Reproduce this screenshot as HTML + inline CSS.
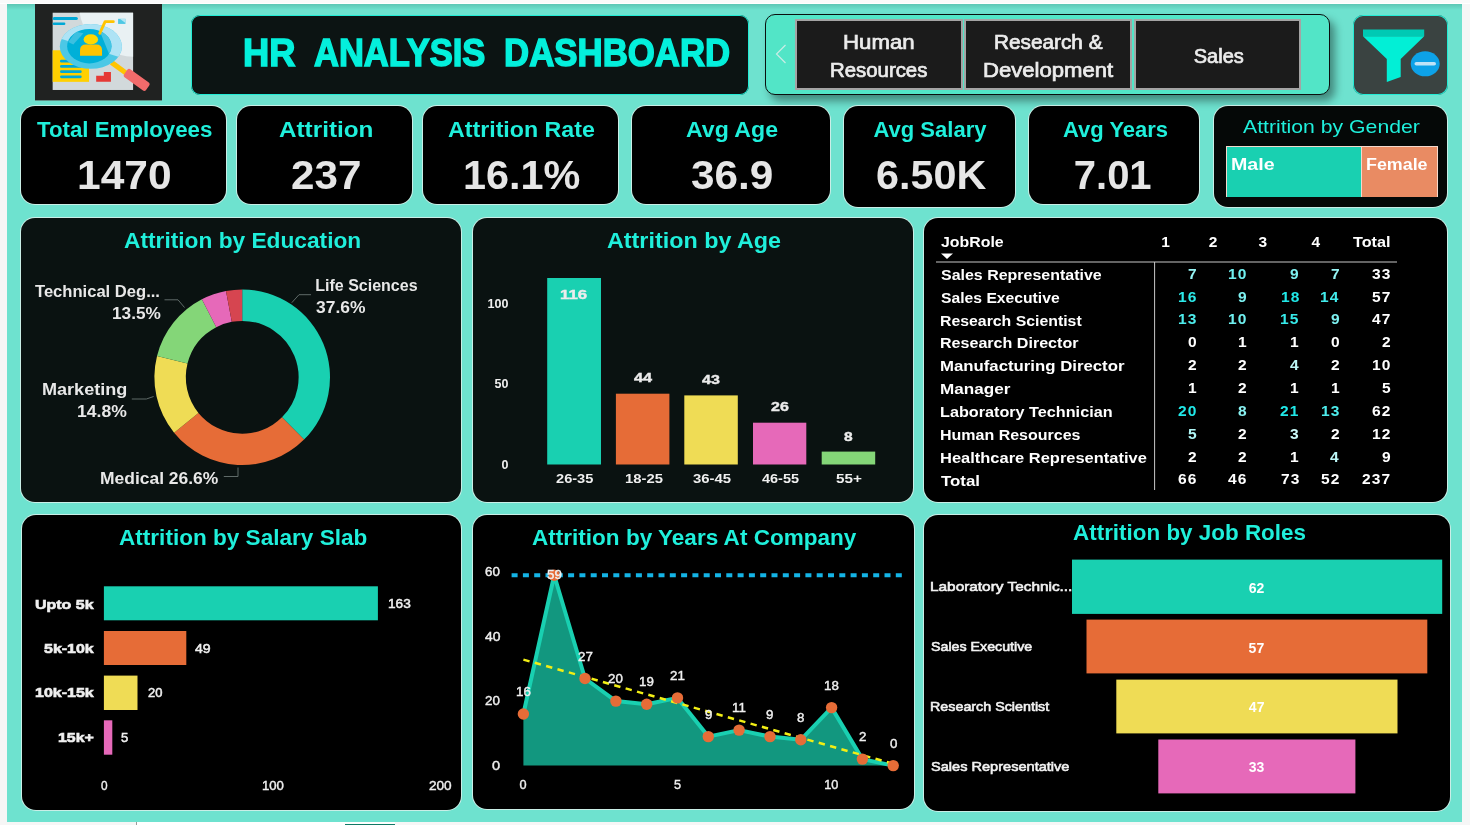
<!DOCTYPE html>
<html lang="en">
<head>
<meta charset="utf-8">
<title>HR Analysis Dashboard</title>
<style>
*{box-sizing:border-box;margin:0;padding:0}
html,body{width:1470px;height:825px;overflow:hidden}
body{position:relative;background:#f6f6f6;font-family:"Liberation Sans",sans-serif;color:#fff}
#canvas{position:absolute;left:7px;top:4px;width:1455px;height:818px;background:linear-gradient(180deg,rgba(0,50,40,.16),rgba(0,50,40,0) 6px) #6ee2cf}
.abs{position:absolute}
.panel{position:absolute;background:#000;border-radius:14px;box-shadow:0 0 0 1px rgba(238,242,240,.72)}
.dk{background:#0a1211}
.t{position:absolute;white-space:pre;line-height:1;font-weight:700;transform-origin:0 0;color:#fff}
.btn{position:absolute;background:#1b1b1b;border:2px solid #a4a4a4}
svg{position:absolute;left:0;top:0;overflow:visible}
</style>
</head>
<body>
<div class="abs" style="left:0;top:0;width:1470px;height:4px;background:linear-gradient(180deg,#fafafa 0,#fafafa 2.6px,#fff 3px,#fff 4px)"></div>
<div id="canvas"></div>
<div class="abs" style="left:136px;top:822px;width:259px;height:3px;background:#fff;border-left:1px solid #9a9a9a"></div>
<div class="abs" style="left:345px;top:824px;width:50px;height:1px;background:#117865"></div>

<!-- header -->
<div class="abs" id="logo" style="left:35.0px;top:4.0px;width:127.0px;height:95.7px;background:#202221;box-shadow:0 1px 0 #5f8f86">
<svg width="140" height="105" viewBox="0 0 1100 825" style="left:-5px;top:-4px">
<rect x="178" y="100" width="632" height="607" fill="#d2d9db"/>
<path d="M390 100H810V445Q700 440 640 400Q420 300 390 100Z" fill="#e9f1f3"/>
<rect x="178" y="134" width="198" height="24" rx="12" fill="#00a8d6"/><rect x="178" y="177" width="100" height="20" rx="10" fill="#00a8d6"/>
<rect x="692" y="148" width="58" height="40" fill="#4ec8e4"/><path d="M705 148H750V180Z" fill="#b5e6f3"/>
<rect x="178" y="395" width="286" height="248" fill="#ffd000"/>
<g fill="#00a8d6"><rect x="236" y="470" width="170" height="21" rx="10"/><rect x="236" y="511" width="170" height="21" rx="10"/><rect x="236" y="552" width="170" height="21" rx="10"/><rect x="236" y="593" width="170" height="21" rx="10"/></g>
<path d="M520 643V596H580V565H636V643Z" fill="#e53935"/>
<path d="M640 490L770 585" stroke="#ffc400" stroke-width="40" fill="none"/>
<rect x="0" y="-39" width="212" height="78" rx="20" transform="translate(752 566) rotate(35.6)" fill="#f26b6b"/>
<clipPath id="lo"><ellipse cx="478" cy="365" rx="244" ry="176"/></clipPath>
<clipPath id="li"><ellipse cx="466" cy="363" rx="174" ry="135"/></clipPath>
<ellipse cx="478" cy="365" rx="244" ry="176" fill="#4cc8e6"/>
<path d="M230 300V100H800V480L700 448Z" fill="#aee3f5" clip-path="url(#lo)"/>
<ellipse cx="466" cy="363" rx="174" ry="135" fill="#00b0d8"/>
<path d="M530 200L600 200L700 430L640 470Z" fill="#45c5e4" clip-path="url(#li)"/>
<path d="M300 330L360 250L420 262L340 350Z" fill="#3cc0e0" clip-path="url(#li)"/>
<path d="M548 262L590 170H655" stroke="#ffc400" stroke-width="22" stroke-linecap="round" stroke-linejoin="round" fill="none"/>
<ellipse cx="478" cy="310" rx="57" ry="40" fill="#ffd800"/>
<path d="M393 438V395Q393 350 440 350H520Q566 350 566 395V438Z" fill="#ffc400"/>
</svg>
</div>
<div class="abs" id="titlebar" style="left:191.0px;top:15.0px;width:558.0px;height:80.0px;background:#0c1413;border-radius:9px;box-shadow:inset 0 0 0 1px #22ecd6">
<span class="t" style="left:52.15px;top:19.25px;font-size:38.2px;color:#04f0dc;-webkit-text-stroke:1.5px #04f0dc;transform:scaleX(0.9510);">HR</span>
<span class="t" style="left:122.92px;top:19.25px;font-size:38.2px;color:#04f0dc;-webkit-text-stroke:1.5px #04f0dc;transform:scaleX(0.9041);">ANALYSIS</span>
<span class="t" style="left:312.88px;top:19.25px;font-size:38.2px;color:#04f0dc;-webkit-text-stroke:1.5px #04f0dc;transform:scaleX(0.9115);">DASHBOARD</span>
</div>
<div class="abs" id="slicer" style="left:764.5px;top:14.0px;width:565.5px;height:81.0px;background:#52e5c7;border:1px solid #0a0f0e;border-radius:10px;box-shadow:5px 6px 8px rgba(0,0,0,.4)">
<div class="abs" style="left:-1px;top:-1px;width:0;height:0">
<div class="btn" style="left:30.7px;top:5.4px;width:167.5px;height:70.2px"></div><div class="btn" style="left:199.9px;top:5.4px;width:167.5px;height:70.2px"></div><div class="btn" style="left:369.2px;top:5.4px;width:167.6px;height:70.2px"></div><svg width="565.5" height="81.0" viewBox="764.5 14.0 565.5 81.0"><path d="M785 45L776 54L785 63" stroke="#c9ece5" stroke-width="1.2" fill="none"/></svg>
<span class="t" style="left:78.26px;top:18.25px;font-size:20px;color:#ececec;font-weight:400;-webkit-text-stroke:0.7px #ececec;transform:scaleX(1.1104);">Human</span>
<span class="t" style="left:65.72px;top:46.25px;font-size:20px;color:#ececec;font-weight:400;-webkit-text-stroke:0.7px #ececec;transform:scaleX(1.0188);">Resources</span>
<span class="t" style="left:229.64px;top:18.25px;font-size:20px;color:#ececec;font-weight:400;-webkit-text-stroke:0.7px #ececec;transform:scaleX(1.0381);">Research &amp;</span>
<span class="t" style="left:218.70px;top:46.25px;font-size:20px;color:#ececec;font-weight:400;-webkit-text-stroke:0.7px #ececec;transform:scaleX(1.1048);">Development</span>
<span class="t" style="left:429.23px;top:32.25px;font-size:20px;color:#ececec;font-weight:400;-webkit-text-stroke:0.7px #ececec;">Sales</span>
</div>
</div>
<div class="abs" id="filter" style="left:1353.0px;top:15.0px;width:95.0px;height:80.0px;background:#3a4341;border-radius:10px;box-shadow:inset 0 0 0 1px #22ecd6">
<svg width="95.0" height="80.0" viewBox="1353.0 15.0 95.0 80.0"><path d="M1363 29.5H1424.2V36.3H1363Z" fill="#00c9b4"/><path d="M1363 36.3H1424.2L1400.7 59V77L1386.8 82V59Z" fill="#02efd6"/>
<ellipse cx="1425.2" cy="63.8" rx="14.5" ry="12.5" fill="#0da2e8"/><rect x="1414.5" y="62" width="21.5" height="3.6" rx="1.8" fill="#bfe3f7"/></svg>
</div>

<!-- KPI cards -->
<div class="panel" id="k1" style="left:21.0px;top:106.0px;width:205.0px;height:98.0px;">
<span class="t" style="left:15.79px;top:13.25px;font-size:22px;color:#1fefdb;transform:scaleX(1.0127);">Total Employees</span>
<span class="t" style="left:56.09px;top:49.25px;font-size:40px;color:#e6e6e6;transform:scaleX(1.0622);">1470</span>
</div>
<div class="panel" id="k2" style="left:237.0px;top:106.0px;width:175.0px;height:98.0px;">
<span class="t" style="left:41.75px;top:13.25px;font-size:22px;color:#1fefdb;transform:scaleX(1.1038);">Attrition</span>
<span class="t" style="left:53.95px;top:49.25px;font-size:40px;color:#e6e6e6;transform:scaleX(1.0544);">237</span>
</div>
<div class="panel" id="k3" style="left:423.0px;top:106.0px;width:195.0px;height:98.0px;">
<span class="t" style="left:25.08px;top:13.25px;font-size:22px;color:#1fefdb;transform:scaleX(1.0539);">Attrition Rate</span>
<span class="t" style="left:40.08px;top:49.25px;font-size:40px;color:#e6e6e6;transform:scaleX(1.0340);">16.1%</span>
</div>
<div class="panel" id="k4" style="left:632.0px;top:106.0px;width:198.0px;height:98.0px;">
<span class="t" style="left:53.68px;top:13.25px;font-size:22px;color:#1fefdb;transform:scaleX(1.0502);">Avg Age</span>
<span class="t" style="left:59.12px;top:49.25px;font-size:40px;color:#e6e6e6;transform:scaleX(1.0572);">36.9</span>
</div>
<div class="panel" id="k5" style="left:844.0px;top:106.0px;width:171.0px;height:101.0px;">
<span class="t" style="left:29.52px;top:13.25px;font-size:22px;color:#1fefdb;">Avg Salary</span>
<span class="t" style="left:31.84px;top:49.25px;font-size:40px;color:#e6e6e6;transform:scaleX(1.0326);">6.50K</span>
</div>
<div class="panel" id="k6" style="left:1029.0px;top:106.0px;width:170.0px;height:98.0px;">
<span class="t" style="left:33.93px;top:13.25px;font-size:22px;color:#1fefdb;">Avg Years</span>
<span class="t" style="left:44.77px;top:49.25px;font-size:40px;color:#e6e6e6;">7.01</span>
</div>
<div class="panel" id="gender" style="left:1214.0px;top:106.0px;width:233.0px;height:101.0px;background:#050807">
<div class="abs" style="left:11.9px;top:40.3px;width:212.1px;height:51px;background:#f4d9cc"></div><div class="abs" style="left:12.6px;top:41.0px;width:134.0px;height:49.6px;background:#19d0b1"></div><div class="abs" style="left:148.0px;top:41.0px;width:75.3px;height:49.6px;background:#e98b63"></div>
<span class="t" style="left:29.37px;top:11.25px;font-size:19px;color:#1fefdb;font-weight:400;transform:scaleX(1.1164);">Attrition by Gender</span>
<span class="t" style="left:17.33px;top:51.25px;font-size:16px;transform:scaleX(1.2268);">Male</span>
<span class="t" style="left:152.04px;top:51.25px;font-size:16px;transform:scaleX(1.1158);">Female</span>
</div>

<!-- row 3 -->
<div class="panel dk" id="p1" style="left:21.0px;top:218.0px;width:440.0px;height:284.0px;">
<svg width="440.0" height="284.0" viewBox="21.0 218.0 440.0 284.0"><path d="M242.20 289.50A87.8 87.8 0 0 1 304.08 439.59L281.95 417.31A56.4 56.4 0 0 0 242.20 320.90Z" fill="#19d0b1"/><path d="M304.08 439.59A87.8 87.8 0 0 1 174.08 432.69L198.44 412.88A56.4 56.4 0 0 0 281.95 417.31Z" fill="#e66c37"/><path d="M174.08 432.69A87.8 87.8 0 0 1 157.03 355.98L187.49 363.61A56.4 56.4 0 0 0 198.44 412.88Z" fill="#efdc55"/><path d="M157.03 355.98A87.8 87.8 0 0 1 201.87 299.31L216.30 327.20A56.4 56.4 0 0 0 187.49 363.61Z" fill="#84d678"/><path d="M201.87 299.31A87.8 87.8 0 0 1 226.00 291.01L231.79 321.87A56.4 56.4 0 0 0 216.30 327.20Z" fill="#e669b9"/><path d="M226.00 291.01A87.8 87.8 0 0 1 242.20 289.50L242.20 320.90A56.4 56.4 0 0 0 231.79 321.87Z" fill="#d64550"/><path d="M291.8 302.7L299 294.7H311M184.5 307.5L178 299.8H164.5M153.6 396.5L146.4 399H131.8M238 467.5V476.5H223.8" fill="none" stroke="#5f6a68" stroke-width="1"/></svg>
<span class="t" style="left:103.14px;top:12.25px;font-size:21.6px;color:#1fefdb;transform:scaleX(1.0520);">Attrition by Education</span>
<span class="t" style="left:294.25px;top:60.25px;font-size:16px;color:#e8e8e8;">Life Sciences</span>
<span class="t" style="left:294.65px;top:82.25px;font-size:16px;color:#e8e8e8;transform:scaleX(1.0890);">37.6%</span>
<span class="t" style="left:13.70px;top:66.25px;font-size:16px;color:#e8e8e8;transform:scaleX(1.0359);">Technical Deg...</span>
<span class="t" style="left:90.62px;top:88.25px;font-size:16px;color:#e8e8e8;transform:scaleX(1.0761);">13.5%</span>
<span class="t" style="left:21.02px;top:164.25px;font-size:16px;color:#e8e8e8;transform:scaleX(1.1285);">Marketing</span>
<span class="t" style="left:55.90px;top:186.25px;font-size:16px;color:#e8e8e8;transform:scaleX(1.0965);">14.8%</span>
<span class="t" style="left:78.97px;top:253.25px;font-size:16px;color:#e8e8e8;transform:scaleX(1.0901);">Medical 26.6%</span>
</div>
<div class="panel dk" id="p2" style="left:473.0px;top:218.0px;width:440.0px;height:284.0px;">
<svg width="440.0" height="284.0" viewBox="473.0 218.0 440.0 284.0"><rect x="547.2" y="278.0" width="53.8" height="186.5" fill="#19d0b1"/><rect x="615.9" y="393.7" width="53.5" height="70.8" fill="#e66c37"/><rect x="684.3" y="395.4" width="53.5" height="69.1" fill="#efdc55"/><rect x="753" y="422.7" width="53.3" height="41.8" fill="#e669b9"/><rect x="821.7" y="451.6" width="53.5" height="12.9" fill="#84d678"/></svg>
<span class="t" style="left:134.10px;top:12.25px;font-size:21.6px;color:#1fefdb;transform:scaleX(1.0800);">Attrition by Age</span>
<span class="t" style="left:14.62px;top:80.25px;font-size:12.5px;color:#f0f0f0;">100</span>
<span class="t" style="left:21.57px;top:160.25px;font-size:12.5px;color:#f0f0f0;">50</span>
<span class="t" style="left:28.52px;top:241.25px;font-size:12.5px;color:#f0f0f0;">0</span>
<span class="t" style="left:82.91px;top:254.25px;font-size:13px;color:#f0f0f0;transform:scaleX(1.1239);">26-35</span>
<span class="t" style="left:151.97px;top:254.25px;font-size:13px;color:#f0f0f0;transform:scaleX(1.1393);">18-25</span>
<span class="t" style="left:219.90px;top:254.25px;font-size:13px;color:#f0f0f0;transform:scaleX(1.1462);">36-45</span>
<span class="t" style="left:289.00px;top:254.25px;font-size:13px;color:#f0f0f0;transform:scaleX(1.1145);">46-55</span>
<span class="t" style="left:362.95px;top:254.25px;font-size:13px;color:#f0f0f0;transform:scaleX(1.1749);">55+</span>
<span class="t" style="left:86.65px;top:71.25px;font-size:12.7px;color:#ececec;-webkit-text-stroke:0.4px #ececec;transform:scaleX(1.3253);">116</span>
<span class="t" style="left:160.91px;top:154.25px;font-size:12.7px;color:#ececec;-webkit-text-stroke:0.4px #ececec;transform:scaleX(1.2817);">44</span>
<span class="t" style="left:228.97px;top:156.25px;font-size:12.7px;color:#ececec;-webkit-text-stroke:0.4px #ececec;transform:scaleX(1.2607);">43</span>
<span class="t" style="left:298.30px;top:183.25px;font-size:12.7px;color:#ececec;-webkit-text-stroke:0.4px #ececec;transform:scaleX(1.2602);">26</span>
<span class="t" style="left:370.65px;top:213.25px;font-size:12.7px;color:#ececec;-webkit-text-stroke:0.4px #ececec;transform:scaleX(1.2234);">8</span>
</div>
<div class="panel" id="p3" style="left:924.0px;top:218.0px;width:523.0px;height:284.0px;">
<svg width="523.0" height="284.0" viewBox="924.0 218.0 523.0 284.0"><path d="M936 262H1397M1154.6 262V490" stroke="#c8c8c8" stroke-width="1" fill="none"/><path d="M941 253.4H953L947 259Z" fill="#fff"/></svg>
<span class="t" style="left:16.85px;top:16.25px;font-size:15.5px;transform:scaleX(1.0257);">JobRole</span>
<span class="t" style="left:237.25px;top:16.25px;font-size:15.5px;">1</span>
<span class="t" style="left:284.76px;top:16.25px;font-size:15.5px;">2</span>
<span class="t" style="left:334.45px;top:16.25px;font-size:15.5px;">3</span>
<span class="t" style="left:387.58px;top:16.25px;font-size:15.5px;">4</span>
<span class="t" style="left:429.40px;top:16.25px;font-size:15.5px;transform:scaleX(1.0435);">Total</span>
<span class="t" style="left:17.19px;top:49.25px;font-size:15.5px;transform:scaleX(1.0305);">Sales Representative</span>
<span class="t" style="left:263.94px;top:49.25px;font-size:14.4px;color:#96f4f4;letter-spacing:1px;transform:scaleX(1.0800);">7</span>
<span class="t" style="left:304.22px;top:49.25px;font-size:14.4px;color:#70f0f0;letter-spacing:1px;transform:scaleX(1.0800);">10</span>
<span class="t" style="left:366.24px;top:49.25px;font-size:14.4px;color:#7df1f1;letter-spacing:1px;transform:scaleX(1.0800);">9</span>
<span class="t" style="left:407.24px;top:49.25px;font-size:14.4px;color:#96f4f4;letter-spacing:1px;transform:scaleX(1.0800);">7</span>
<span class="t" style="left:448.22px;top:49.25px;font-size:14.4px;letter-spacing:1px;transform:scaleX(1.0800);">33</span>
<span class="t" style="left:16.76px;top:72.25px;font-size:15.5px;transform:scaleX(1.0126);">Sales Executive</span>
<span class="t" style="left:254.22px;top:72.25px;font-size:14.4px;color:#2be9e9;letter-spacing:1px;transform:scaleX(1.0800);">16</span>
<span class="t" style="left:313.94px;top:72.25px;font-size:14.4px;color:#7df1f1;letter-spacing:1px;transform:scaleX(1.0800);">9</span>
<span class="t" style="left:357.12px;top:72.25px;font-size:14.4px;color:#20e8e8;letter-spacing:1px;transform:scaleX(1.0800);">18</span>
<span class="t" style="left:395.95px;top:72.25px;font-size:14.4px;color:#41ebeb;letter-spacing:1px;transform:scaleX(1.0800);">14</span>
<span class="t" style="left:448.22px;top:72.25px;font-size:14.4px;letter-spacing:1px;transform:scaleX(1.0800);">57</span>
<span class="t" style="left:16.48px;top:95.25px;font-size:15.5px;transform:scaleX(1.0215);">Research Scientist</span>
<span class="t" style="left:254.22px;top:94.25px;font-size:14.4px;color:#4decec;letter-spacing:1px;transform:scaleX(1.0800);">13</span>
<span class="t" style="left:304.22px;top:94.25px;font-size:14.4px;color:#70f0f0;letter-spacing:1px;transform:scaleX(1.0800);">10</span>
<span class="t" style="left:356.06px;top:94.25px;font-size:14.4px;color:#36eaea;letter-spacing:1px;transform:scaleX(1.0800);">15</span>
<span class="t" style="left:407.24px;top:94.25px;font-size:14.4px;color:#7df1f1;letter-spacing:1px;transform:scaleX(1.0800);">9</span>
<span class="t" style="left:448.22px;top:94.25px;font-size:14.4px;letter-spacing:1px;transform:scaleX(1.0800);">47</span>
<span class="t" style="left:16.35px;top:117.25px;font-size:15.5px;transform:scaleX(1.0370);">Research Director</span>
<span class="t" style="left:263.94px;top:117.25px;font-size:14.4px;color:#ffffff;letter-spacing:1px;transform:scaleX(1.0800);">0</span>
<span class="t" style="left:313.94px;top:117.25px;font-size:14.4px;color:#ffffff;letter-spacing:1px;transform:scaleX(1.0800);">1</span>
<span class="t" style="left:366.24px;top:117.25px;font-size:14.4px;color:#ffffff;letter-spacing:1px;transform:scaleX(1.0800);">1</span>
<span class="t" style="left:407.24px;top:117.25px;font-size:14.4px;color:#ffffff;letter-spacing:1px;transform:scaleX(1.0800);">0</span>
<span class="t" style="left:457.94px;top:117.25px;font-size:14.4px;letter-spacing:1px;transform:scaleX(1.0800);">2</span>
<span class="t" style="left:16.36px;top:140.25px;font-size:15.5px;transform:scaleX(1.0816);">Manufacturing Director</span>
<span class="t" style="left:263.94px;top:140.25px;font-size:14.4px;color:#ffffff;letter-spacing:1px;transform:scaleX(1.0800);">2</span>
<span class="t" style="left:313.94px;top:140.25px;font-size:14.4px;color:#ffffff;letter-spacing:1px;transform:scaleX(1.0800);">2</span>
<span class="t" style="left:365.63px;top:140.25px;font-size:14.4px;color:#bdf8f8;letter-spacing:1px;transform:scaleX(1.0800);">4</span>
<span class="t" style="left:407.24px;top:140.25px;font-size:14.4px;color:#ffffff;letter-spacing:1px;transform:scaleX(1.0800);">2</span>
<span class="t" style="left:448.22px;top:140.25px;font-size:14.4px;letter-spacing:1px;transform:scaleX(1.0800);">10</span>
<span class="t" style="left:16.41px;top:163.25px;font-size:15.5px;transform:scaleX(1.1035);">Manager</span>
<span class="t" style="left:263.94px;top:163.25px;font-size:14.4px;color:#ffffff;letter-spacing:1px;transform:scaleX(1.0800);">1</span>
<span class="t" style="left:313.94px;top:163.25px;font-size:14.4px;color:#ffffff;letter-spacing:1px;transform:scaleX(1.0800);">2</span>
<span class="t" style="left:366.24px;top:163.25px;font-size:14.4px;color:#ffffff;letter-spacing:1px;transform:scaleX(1.0800);">1</span>
<span class="t" style="left:407.24px;top:163.25px;font-size:14.4px;color:#ffffff;letter-spacing:1px;transform:scaleX(1.0800);">1</span>
<span class="t" style="left:457.94px;top:163.25px;font-size:14.4px;letter-spacing:1px;transform:scaleX(1.0800);">5</span>
<span class="t" style="left:16.34px;top:186.25px;font-size:15.5px;transform:scaleX(1.0452);">Laboratory Technician</span>
<span class="t" style="left:254.22px;top:186.25px;font-size:14.4px;color:#20e8e8;letter-spacing:1px;transform:scaleX(1.0800);">20</span>
<span class="t" style="left:313.94px;top:186.25px;font-size:14.4px;color:#89f2f2;letter-spacing:1px;transform:scaleX(1.0800);">8</span>
<span class="t" style="left:355.97px;top:186.25px;font-size:14.4px;color:#20e8e8;letter-spacing:1px;transform:scaleX(1.0800);">21</span>
<span class="t" style="left:396.55px;top:186.25px;font-size:14.4px;color:#4decec;letter-spacing:1px;transform:scaleX(1.0800);">13</span>
<span class="t" style="left:448.22px;top:186.25px;font-size:14.4px;letter-spacing:1px;transform:scaleX(1.0800);">62</span>
<span class="t" style="left:16.37px;top:209.25px;font-size:15.5px;transform:scaleX(1.0319);">Human Resources</span>
<span class="t" style="left:263.94px;top:209.25px;font-size:14.4px;color:#b0f6f6;letter-spacing:1px;transform:scaleX(1.0800);">5</span>
<span class="t" style="left:313.94px;top:209.25px;font-size:14.4px;color:#ffffff;letter-spacing:1px;transform:scaleX(1.0800);">2</span>
<span class="t" style="left:366.27px;top:209.25px;font-size:14.4px;color:#cbf9f9;letter-spacing:1px;transform:scaleX(1.0800);">3</span>
<span class="t" style="left:407.24px;top:209.25px;font-size:14.4px;color:#ffffff;letter-spacing:1px;transform:scaleX(1.0800);">2</span>
<span class="t" style="left:448.22px;top:209.25px;font-size:14.4px;letter-spacing:1px;transform:scaleX(1.0800);">12</span>
<span class="t" style="left:16.29px;top:232.25px;font-size:15.5px;transform:scaleX(1.0624);">Healthcare Representative</span>
<span class="t" style="left:263.94px;top:232.25px;font-size:14.4px;color:#ffffff;letter-spacing:1px;transform:scaleX(1.0800);">2</span>
<span class="t" style="left:313.94px;top:232.25px;font-size:14.4px;color:#ffffff;letter-spacing:1px;transform:scaleX(1.0800);">2</span>
<span class="t" style="left:366.24px;top:232.25px;font-size:14.4px;color:#ffffff;letter-spacing:1px;transform:scaleX(1.0800);">1</span>
<span class="t" style="left:406.43px;top:232.25px;font-size:14.4px;color:#bdf8f8;letter-spacing:1px;transform:scaleX(1.0800);">4</span>
<span class="t" style="left:457.94px;top:232.25px;font-size:14.4px;letter-spacing:1px;transform:scaleX(1.0800);">9</span>
<span class="t" style="left:16.83px;top:255.25px;font-size:15.5px;transform:scaleX(1.0881);">Total</span>
<span class="t" style="left:254.22px;top:254.25px;font-size:14.4px;letter-spacing:1px;transform:scaleX(1.0800);">66</span>
<span class="t" style="left:304.22px;top:254.25px;font-size:14.4px;letter-spacing:1px;transform:scaleX(1.0800);">46</span>
<span class="t" style="left:357.12px;top:254.25px;font-size:14.4px;letter-spacing:1px;transform:scaleX(1.0800);">73</span>
<span class="t" style="left:396.52px;top:254.25px;font-size:14.4px;letter-spacing:1px;transform:scaleX(1.0800);">52</span>
<span class="t" style="left:438.49px;top:254.25px;font-size:14.4px;letter-spacing:1px;transform:scaleX(1.0800);">237</span>
</div>

<!-- row 4 -->
<div class="panel" id="p4" style="left:22.0px;top:515.0px;width:439.0px;height:295.0px;">
<svg width="439.0" height="295.0" viewBox="22.0 515.0 439.0 295.0"><rect x="103.9" y="586.3" width="274.0" height="34.0" fill="#19d0b1"/><rect x="103.9" y="631" width="82.4" height="34.0" fill="#e66c37"/><rect x="103.9" y="675.6" width="33.6" height="34.4" fill="#efdc55"/><rect x="103.9" y="720.3" width="8.4" height="34.4" fill="#e669b9"/></svg>
<span class="t" style="left:96.52px;top:12.25px;font-size:21.6px;color:#1fefdb;transform:scaleX(1.0452);">Attrition by Salary Slab</span>
<span class="t" style="left:13.21px;top:83.25px;font-size:13.5px;color:#f0f0f0;-webkit-text-stroke:0.6px #f0f0f0;transform:scaleX(1.1832);">Upto 5k</span>
<span class="t" style="left:22.47px;top:127.25px;font-size:13.5px;color:#f0f0f0;-webkit-text-stroke:0.6px #f0f0f0;transform:scaleX(1.1823);">5k-10k</span>
<span class="t" style="left:13.28px;top:171.25px;font-size:13.5px;color:#f0f0f0;-webkit-text-stroke:0.6px #f0f0f0;transform:scaleX(1.1846);">10k-15k</span>
<span class="t" style="left:36.48px;top:216.25px;font-size:13.5px;color:#f0f0f0;-webkit-text-stroke:0.6px #f0f0f0;transform:scaleX(1.1802);">15k+</span>
<span class="t" style="left:365.57px;top:83.25px;font-size:12.7px;color:#f0f0f0;font-weight:400;-webkit-text-stroke:0.5px #f0f0f0;transform:scaleX(1.0734);">163</span>
<span class="t" style="left:172.58px;top:128.25px;font-size:12.7px;color:#f0f0f0;font-weight:400;-webkit-text-stroke:0.5px #f0f0f0;transform:scaleX(1.1093);">49</span>
<span class="t" style="left:125.65px;top:172.25px;font-size:12.7px;color:#f0f0f0;font-weight:400;-webkit-text-stroke:0.5px #f0f0f0;transform:scaleX(1.0227);">20</span>
<span class="t" style="left:99.43px;top:217.25px;font-size:12.7px;color:#f0f0f0;font-weight:400;-webkit-text-stroke:0.5px #f0f0f0;transform:scaleX(1.0301);">5</span>
<span class="t" style="left:79.47px;top:265.25px;font-size:12.7px;color:#f0f0f0;font-weight:400;-webkit-text-stroke:0.4px #f0f0f0;transform:scaleX(0.9306);">0</span>
<span class="t" style="left:239.55px;top:265.25px;font-size:12.7px;color:#f0f0f0;font-weight:400;-webkit-text-stroke:0.4px #f0f0f0;transform:scaleX(1.0356);">100</span>
<span class="t" style="left:406.90px;top:265.25px;font-size:12.7px;color:#f0f0f0;font-weight:400;-webkit-text-stroke:0.4px #f0f0f0;transform:scaleX(1.0710);">200</span>
</div>
<div class="panel" id="p5" style="left:473.0px;top:515.0px;width:441.0px;height:294.0px;">
<svg width="441.0" height="294.0" viewBox="473.0 515.0 441.0 294.0"><path d="M523.4 714.0L554.2 575.3L585.0 678.5L615.9 701.1L646.7 704.3L677.5 697.9L708.3 736.6L739.1 730.1L770.0 736.6L800.8 739.8L831.6 707.6L862.4 759.1L893.2 765.6L893.2 765.6L523.4 765.6Z" fill="#12977f"/><path d="M523.4 714.0L554.2 575.3L585.0 678.5L615.9 701.1L646.7 704.3L677.5 697.9L708.3 736.6L739.1 730.1L770.0 736.6L800.8 739.8L831.6 707.6L862.4 759.1L893.2 765.6" fill="none" stroke="#19d0b1" stroke-width="4" stroke-linejoin="round"/><path d="M511.6 575.2H905" stroke="#14b4e6" stroke-width="4" stroke-dasharray="6 5.3" fill="none"/><path d="M523.4 659.6L893.2 763.8" stroke="#f2ee15" stroke-width="2.5" stroke-dasharray="6.4 5.4" fill="none"/><circle cx="523.4" cy="714.0" r="5.7" fill="#e66c37"/><circle cx="554.2" cy="575.3" r="5.7" fill="#e66c37"/><circle cx="585.0" cy="678.5" r="5.7" fill="#e66c37"/><circle cx="615.9" cy="701.1" r="5.7" fill="#e66c37"/><circle cx="646.7" cy="704.3" r="5.7" fill="#e66c37"/><circle cx="677.5" cy="697.9" r="5.7" fill="#e66c37"/><circle cx="708.3" cy="736.6" r="5.7" fill="#e66c37"/><circle cx="739.1" cy="730.1" r="5.7" fill="#e66c37"/><circle cx="770.0" cy="736.6" r="5.7" fill="#e66c37"/><circle cx="800.8" cy="739.8" r="5.7" fill="#e66c37"/><circle cx="831.6" cy="707.6" r="5.7" fill="#e66c37"/><circle cx="862.4" cy="759.1" r="5.7" fill="#e66c37"/><circle cx="893.2" cy="765.6" r="5.7" fill="#e66c37"/></svg>
<span class="t" style="left:59.35px;top:12.25px;font-size:21.6px;color:#1fefdb;transform:scaleX(1.0437);">Attrition by Years At Company</span>
<span class="t" style="left:12.10px;top:51.25px;font-size:12.7px;color:#f0f0f0;font-weight:400;-webkit-text-stroke:0.4px #f0f0f0;transform:scaleX(1.0529);">60</span>
<span class="t" style="left:11.89px;top:116.25px;font-size:12.7px;color:#f0f0f0;font-weight:400;-webkit-text-stroke:0.4px #f0f0f0;transform:scaleX(1.0962);">40</span>
<span class="t" style="left:12.10px;top:180.25px;font-size:12.7px;color:#f0f0f0;font-weight:400;-webkit-text-stroke:0.4px #f0f0f0;transform:scaleX(1.0529);">20</span>
<span class="t" style="left:19.42px;top:245.25px;font-size:12.7px;color:#f0f0f0;font-weight:400;-webkit-text-stroke:0.4px #f0f0f0;transform:scaleX(1.1494);">0</span>
<span class="t" style="left:46.50px;top:264.25px;font-size:12.7px;color:#f0f0f0;font-weight:400;-webkit-text-stroke:0.4px #f0f0f0;">0</span>
<span class="t" style="left:201.10px;top:264.25px;font-size:12.7px;color:#f0f0f0;font-weight:400;-webkit-text-stroke:0.4px #f0f0f0;">5</span>
<span class="t" style="left:351.20px;top:264.25px;font-size:12.7px;color:#f0f0f0;font-weight:400;-webkit-text-stroke:0.4px #f0f0f0;">10</span>
<span class="t" style="left:43.02px;top:171.25px;font-size:12.7px;color:#f0f0f0;font-weight:400;-webkit-text-stroke:0.4px #f0f0f0;transform:scaleX(1.0500);">16</span>
<span class="t" style="left:73.84px;top:54.25px;font-size:12.7px;color:#f0f0f0;font-weight:400;-webkit-text-stroke:0.4px #f0f0f0;transform:scaleX(1.0500);">59</span>
<span class="t" style="left:104.66px;top:136.25px;font-size:12.7px;color:#f0f0f0;font-weight:400;-webkit-text-stroke:0.4px #f0f0f0;transform:scaleX(1.0500);">27</span>
<span class="t" style="left:135.48px;top:158.25px;font-size:12.7px;color:#f0f0f0;font-weight:400;-webkit-text-stroke:0.4px #f0f0f0;transform:scaleX(1.0500);">20</span>
<span class="t" style="left:166.30px;top:161.25px;font-size:12.7px;color:#f0f0f0;font-weight:400;-webkit-text-stroke:0.4px #f0f0f0;transform:scaleX(1.0500);">19</span>
<span class="t" style="left:197.12px;top:155.25px;font-size:12.7px;color:#f0f0f0;font-weight:400;-webkit-text-stroke:0.4px #f0f0f0;transform:scaleX(1.0500);">21</span>
<span class="t" style="left:231.64px;top:194.25px;font-size:12.7px;color:#f0f0f0;font-weight:400;-webkit-text-stroke:0.4px #f0f0f0;transform:scaleX(1.0500);">9</span>
<span class="t" style="left:259.26px;top:187.25px;font-size:12.7px;color:#f0f0f0;font-weight:400;-webkit-text-stroke:0.4px #f0f0f0;transform:scaleX(1.0500);">11</span>
<span class="t" style="left:293.29px;top:194.25px;font-size:12.7px;color:#f0f0f0;font-weight:400;-webkit-text-stroke:0.4px #f0f0f0;transform:scaleX(1.0500);">9</span>
<span class="t" style="left:324.11px;top:197.25px;font-size:12.7px;color:#f0f0f0;font-weight:400;-webkit-text-stroke:0.4px #f0f0f0;transform:scaleX(1.0500);">8</span>
<span class="t" style="left:351.22px;top:165.25px;font-size:12.7px;color:#f0f0f0;font-weight:400;-webkit-text-stroke:0.4px #f0f0f0;transform:scaleX(1.0500);">18</span>
<span class="t" style="left:385.75px;top:216.25px;font-size:12.7px;color:#f0f0f0;font-weight:400;-webkit-text-stroke:0.4px #f0f0f0;transform:scaleX(1.0500);">2</span>
<span class="t" style="left:416.57px;top:223.25px;font-size:12.7px;color:#f0f0f0;font-weight:400;-webkit-text-stroke:0.4px #f0f0f0;transform:scaleX(1.0500);">0</span>
</div>
<div class="panel" id="p6" style="left:924.0px;top:515.0px;width:526.0px;height:296.0px;">
<svg width="526.0" height="296.0" viewBox="924.0 515.0 526.0 296.0"><rect x="1072" y="559.6" width="370.2" height="54.3" fill="#19d0b1"/><rect x="1086.5" y="619.6" width="340.8" height="53.8" fill="#e66c37"/><rect x="1116.3" y="679.6" width="281.2" height="53.8" fill="#efdc55"/><rect x="1158.3" y="739.5" width="197.1" height="53.9" fill="#e669b9"/></svg>
<span class="t" style="left:148.97px;top:7.25px;font-size:21.6px;color:#1fefdb;transform:scaleX(1.0385);">Attrition by Job Roles</span>
<span class="t" style="left:6.09px;top:65.25px;font-size:13.3px;color:#f2f2f2;font-weight:400;-webkit-text-stroke:0.6px #f2f2f2;transform:scaleX(1.1558);">Laboratory Technic...</span>
<span class="t" style="left:6.77px;top:125.25px;font-size:13.3px;color:#f2f2f2;font-weight:400;-webkit-text-stroke:0.6px #f2f2f2;transform:scaleX(1.0703);">Sales Executive</span>
<span class="t" style="left:6.18px;top:185.25px;font-size:13.3px;color:#f2f2f2;font-weight:400;-webkit-text-stroke:0.6px #f2f2f2;transform:scaleX(1.0753);">Research Scientist</span>
<span class="t" style="left:6.77px;top:245.25px;font-size:13.3px;color:#f2f2f2;font-weight:400;-webkit-text-stroke:0.6px #f2f2f2;transform:scaleX(1.0954);">Sales Representative</span>
<span class="t" style="left:324.71px;top:66.25px;font-size:14px;">62</span>
<span class="t" style="left:324.61px;top:126.25px;font-size:14px;">57</span>
<span class="t" style="left:324.86px;top:185.25px;font-size:14px;">47</span>
<span class="t" style="left:324.68px;top:245.25px;font-size:14px;">33</span>
</div>
</body>
</html>
